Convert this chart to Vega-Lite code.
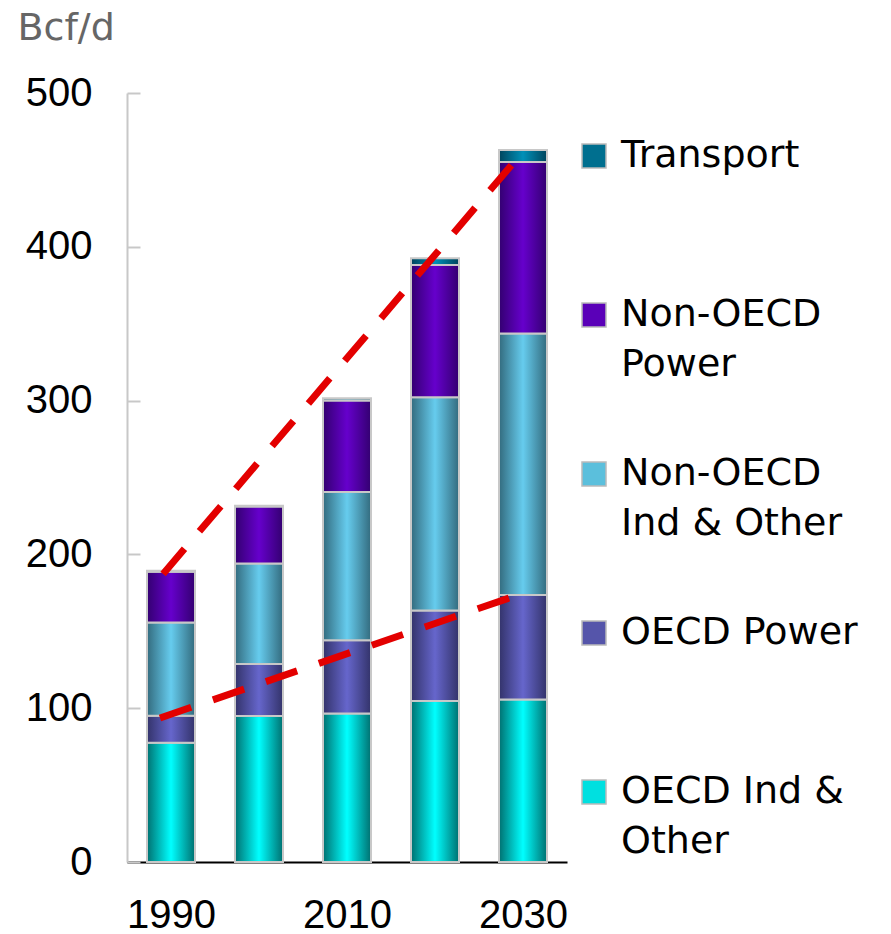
{
  "$schema": "https://vega.github.io/schema/vega-lite/v6.json",
  "width": 440,
  "height": 769,
  "autosize": {"type": "none"},
  "padding": {"left": 127, "top": 93, "right": 324, "bottom": 72},
  "background": "white",
  "datasets": {
    "gas": [
      {"year": 1990, "sector": "OECD Ind & Other", "value": 77.6},
      {"year": 1990, "sector": "OECD Power", "value": 17.5},
      {"year": 1990, "sector": "Non-OECD Ind & Other", "value": 60.7},
      {"year": 1990, "sector": "Non-OECD Power", "value": 33.0},
      {"year": 1990, "sector": "Transport", "value": 0.5},
      {"year": 2000, "sector": "OECD Ind & Other", "value": 95.0},
      {"year": 2000, "sector": "OECD Power", "value": 33.7},
      {"year": 2000, "sector": "Non-OECD Ind & Other", "value": 65.4},
      {"year": 2000, "sector": "Non-OECD Power", "value": 37.0},
      {"year": 2000, "sector": "Transport", "value": 0.5},
      {"year": 2010, "sector": "OECD Ind & Other", "value": 96.6},
      {"year": 2010, "sector": "OECD Power", "value": 47.5},
      {"year": 2010, "sector": "Non-OECD Ind & Other", "value": 96.5},
      {"year": 2010, "sector": "Non-OECD Power", "value": 59.4},
      {"year": 2010, "sector": "Transport", "value": 1.5},
      {"year": 2020, "sector": "OECD Ind & Other", "value": 104.7},
      {"year": 2020, "sector": "OECD Power", "value": 58.8},
      {"year": 2020, "sector": "Non-OECD Ind & Other", "value": 138.6},
      {"year": 2020, "sector": "Non-OECD Power", "value": 86.0},
      {"year": 2020, "sector": "Transport", "value": 4.5},
      {"year": 2030, "sector": "OECD Ind & Other", "value": 105.7},
      {"year": 2030, "sector": "OECD Power", "value": 67.9},
      {"year": 2030, "sector": "Non-OECD Ind & Other", "value": 170.0},
      {"year": 2030, "sector": "Non-OECD Power", "value": 111.5},
      {"year": 2030, "sector": "Transport", "value": 7.8}
    ],
    "trend": [
      {"line": "upper", "year": 1989.1, "value": 187.3},
      {"line": "upper", "year": 2028.9, "value": 454.5},
      {"line": "lower", "year": 1988.75, "value": 93.6},
      {"line": "lower", "year": 2028.75, "value": 172.3}
    ]
  },
  "layer": [
    {
      "data": {"name": "gas"},
      "transform": [
        {"calculate": "indexof(['OECD Ind & Other','OECD Power','Non-OECD Ind & Other','Non-OECD Power','Transport'], datum.sector)", "as": "k"}
      ],
      "mark": {"type": "bar", "size": 48, "orient": "vertical"},
      "encoding": {
        "x": {
          "field": "year", "type": "quantitative",
          "scale": {"domain": [1985, 2035], "nice": false, "zero": false, "padding": 0},
          "axis": {
            "values": [1990, 2010, 2030], "format": "d", "ticks": false, "tickSize": 0,
            "domainColor": "black", "domainWidth": 2, "grid": false, "title": null,
            "labelFont": "Liberation Sans", "labelFontSize": 40, "labelColor": "black",
            "labelLineHeight": 40, "labelPadding": 65, "labelBaseline": "alphabetic"
          }
        },
        "y": {
          "field": "value", "type": "quantitative", "stack": "zero",
          "scale": {"domain": [0, 500], "nice": false},
          "axis": {
            "values": [0, 100, 200, 300, 400, 500], "grid": false,
            "domainColor": "#c8c8c8", "domainWidth": 2,
            "tickColor": "#c8c8c8", "tickWidth": 2, "tickSize": -13,
            "labelFont": "Liberation Sans", "labelFontSize": 40, "labelColor": "black",
            "labelLineHeight": 40, "labelPadding": 48,
            "title": "Bcf/d", "titleAngle": 0, "titleAlign": "left", "titleBaseline": "top",
            "titleX": -110, "titleY": -84,
            "titleFont": "DejaVu Sans", "titleFontSize": 38, "titleColor": "#666666", "titleFontWeight": "normal"
          }
        },
        "color": {
          "field": "sector", "type": "nominal",
          "scale": {
            "domain": ["Transport", "Non-OECD Power", "Non-OECD Ind & Other", "OECD Power", "OECD Ind & Other"],
            "range": ["#006f8f", "#5a00b8", "#5bbfdc", "#5555aa", "#00e0e0"]
          },
          "legend": {
            "orient": "none", "legendX": 448, "legendY": 44, "padding": 0,
            "title": null, "symbolType": "square", "symbolSize": 576,
            "symbolStrokeColor": "#bbbbbb", "symbolStrokeWidth": 1.5, "symbolOpacity": 1,
            "labelFont": "DejaVu Sans", "labelFontSize": 38, "labelColor": "black",
            "labelLimit": 400, "labelOffset": 8, "rowPadding": 71, "labelBaseline": "middle",
            "labelExpr": "datum.label == 'Non-OECD Power' ? ['Non-OECD', 'Power'] : datum.label == 'Non-OECD Ind & Other' ? ['Non-OECD', 'Ind & Other'] : datum.label == 'OECD Ind & Other' ? ['OECD Ind &', 'Other'] : [datum.label, '']"
          }
        },
        "order": {"field": "k", "type": "quantitative"}
      }
    },
    {
      "data": {"name": "gas"},
      "transform": [
        {"calculate": "indexof(['OECD Ind & Other','OECD Power','Non-OECD Ind & Other','Non-OECD Power','Transport'], datum.sector)", "as": "k"}
      ],
      "mark": {"type": "bar", "size": 48, "orient": "vertical", "stroke": "#c8c8c8", "strokeWidth": 2},
      "encoding": {
        "x": {"field": "year", "type": "quantitative"},
        "y": {"field": "value", "type": "quantitative", "stack": "zero"},
        "detail": {"field": "sector", "type": "nominal"},
        "order": {"field": "k", "type": "quantitative"},
        "fill": {
          "condition": [
            {"test": "datum.sector === 'Transport'", "value": {"gradient": "linear", "x1": 0, "y1": 0, "x2": 1, "y2": 0, "stops": [{"offset": 0, "color": "#00445c"}, {"offset": 0.5, "color": "#0090b8"}, {"offset": 1, "color": "#00445c"}]}},
            {"test": "datum.sector === 'Non-OECD Power'", "value": {"gradient": "linear", "x1": 0, "y1": 0, "x2": 1, "y2": 0, "stops": [{"offset": 0, "color": "#330070"}, {"offset": 0.5, "color": "#6600cc"}, {"offset": 1, "color": "#330070"}]}},
            {"test": "datum.sector === 'Non-OECD Ind & Other'", "value": {"gradient": "linear", "x1": 0, "y1": 0, "x2": 1, "y2": 0, "stops": [{"offset": 0, "color": "#336b7e"}, {"offset": 0.5, "color": "#66ccee"}, {"offset": 1, "color": "#336b7e"}]}},
            {"test": "datum.sector === 'OECD Power'", "value": {"gradient": "linear", "x1": 0, "y1": 0, "x2": 1, "y2": 0, "stops": [{"offset": 0, "color": "#33336a"}, {"offset": 0.5, "color": "#6666cc"}, {"offset": 1, "color": "#33336a"}]}}
          ],
          "value": {"gradient": "linear", "x1": 0, "y1": 0, "x2": 1, "y2": 0, "stops": [{"offset": 0, "color": "#007070"}, {"offset": 0.5, "color": "#00ffff"}, {"offset": 1, "color": "#007070"}]}
        }
      }
    },
    {
      "data": {"name": "trend"},
      "mark": {"type": "line", "color": "#e30000", "strokeWidth": 7, "strokeDash": [33, 23], "strokeCap": "butt"},
      "encoding": {
        "x": {"field": "year", "type": "quantitative"},
        "y": {"field": "value", "type": "quantitative", "stack": null},
        "detail": {"field": "line", "type": "nominal"}
      }
    }
  ],
  "config": {
    "view": {"stroke": null},
    "style": {"guide-label": {"lineHeight": 50}}
  }
}
